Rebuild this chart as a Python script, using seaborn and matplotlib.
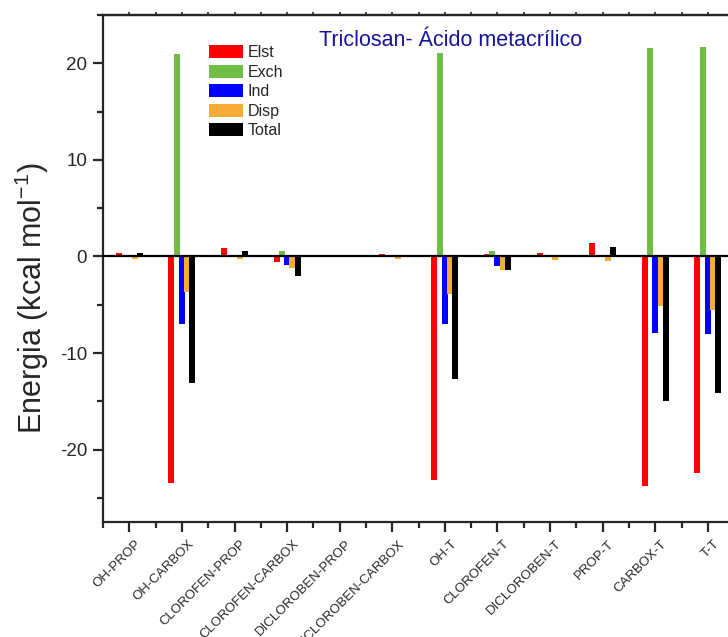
import numpy as np
import pandas as pd
import matplotlib
matplotlib.use("Agg")
import matplotlib.pyplot as plt
from matplotlib.patches import Patch
from matplotlib.ticker import MultipleLocator, FixedLocator
from matplotlib.transforms import ScaledTranslation
import seaborn as sns

# Interaction fragments
categories = ["OH-PROP", "OH-CARBOX", "CLOROFEN-PROP", "CLOROFEN-CARBOX",
              "DICLOROBEN-PROP", "DICLOROBEN-CARBOX", "OH-T", "CLOROFEN-T",
              "DICLOROBEN-T", "PROP-T", "CARBOX-T", "T-T"]

# Energy components (kcal/mol)
elst = [0.4, -23.5, 0.9, -0.6, 0.15, 0.28, -23.1, 0.3, 0.4, 1.37, -23.8, -22.4]
exch = [0.05, 21.0, 0.05, 0.6, 0.05, 0.03, 21.1, 0.6, 0.03, 0.05, 21.6, 21.7]
ind = [-0.1, -7.0, -0.1, -0.9, -0.05, -0.1, -7.0, -0.95, -0.1, -0.1, -7.9, -8.0]
disp = [-0.3, -3.7, -0.25, -1.25, -0.1, -0.25, -3.9, -1.4, -0.35, -0.45, -5.1, -5.5]
total = [0.35, -13.1, 0.6, -2.0, 0.1, -0.05, -12.7, -1.4, 0.05, 1.0, -15.0, -14.1]

components = ["Elst", "Exch", "Ind", "Disp", "Total"]
colors = ["#ff0000", "#6fbd45", "#0000ff", "#f7ab35", "#000000"]

series = [elst, exch, ind, disp, total]
df = pd.DataFrame({
    "Fragmento": np.repeat([categories], len(components), axis=0).ravel(),
    "Componente": np.repeat(components, len(categories)),
    "Energia": np.concatenate(series),
})

sns.set_style("ticks")
plt.rcParams["font.family"] = ["Liberation Sans", "DejaVu Sans"]
plt.rcParams["axes.unicode_minus"] = False
plt.rcParams["mathtext.fontset"] = "custom"
plt.rcParams["mathtext.rm"] = "Liberation Sans"
plt.rcParams["mathtext.default"] = "regular"

fig = plt.figure(figsize=(7.28, 6.37), dpi=100)
ax = fig.add_axes([0.1415, 0.1805, 0.867, 0.796])

sns.barplot(data=df, x="Fragmento", y="Energia", hue="Componente",
            order=categories, hue_order=components, palette=colors,
            width=0.5, saturation=1, errorbar=None, legend=False, ax=ax)

# slightly widen the bars so neighbours touch
for p in ax.patches:
    w = p.get_width()
    p.set_x(p.get_x() - 0.0075)
    p.set_width(w + 0.015)
    p.set_linewidth(0)

ax.axhline(0, color="black", lw=1.6, zorder=3)

ax.set_xlim(-0.5, len(categories) - 0.5)
ax.set_ylim(-27.5, 25)

ax.yaxis.set_major_locator(MultipleLocator(10))
ax.yaxis.set_minor_locator(MultipleLocator(5))
ax.xaxis.set_minor_locator(FixedLocator(np.arange(-0.5, len(categories), 1.0)))

for side in ["left", "bottom", "top", "right"]:
    ax.spines[side].set_linewidth(1.6)

ax.tick_params(axis="y", which="major", length=7.5, width=1.6, labelsize=13.5, pad=4)
ax.tick_params(axis="y", which="minor", length=4.5, width=1.6)
ax.tick_params(axis="x", which="major", length=7.5, width=1.6, labelsize=9.5, pad=4)
ax.tick_params(axis="x", which="minor", length=4.5, width=1.6)

ax.set_xticks(range(len(categories)))
ax.set_xticklabels(categories, rotation=45, ha="right", rotation_mode="anchor")
ax.set_xlabel("")
shift = ScaledTranslation(4 / 72, 0, fig.dpi_scale_trans)
for lab in ax.get_xticklabels():
    lab.set_transform(lab.get_transform() + shift)

# small ticks along the top edge
top = ax.secondary_xaxis("top")
top.set_xticks(np.arange(0, len(categories), 0.5))
top.tick_params(length=2.5, width=1.2, labeltop=False)
top.spines["top"].set_linewidth(1.6)

ax.set_ylabel("Energia (kcal mol$^{-1}$)", fontsize=22, va="center", ha="center")
ax.yaxis.set_label_coords(-0.112, 0.442)

ax.text(0.55, 0.95, "Triclosan- Ácido metacrílico", transform=ax.transAxes,
        ha="center", va="center", fontsize=15.5, color="#14149b")

handles = [Patch(facecolor=c, edgecolor="none", label=l) for c, l in zip(colors, components)]
ax.legend(handles=handles, loc="upper left", bbox_to_anchor=(0.168, 0.94),
          frameon=False, fontsize=11.5, handlelength=2.1, handleheight=0.85,
          handletextpad=0.3, labelspacing=0.28, borderpad=0, borderaxespad=0)

fig.savefig("out.png", dpi=100)
